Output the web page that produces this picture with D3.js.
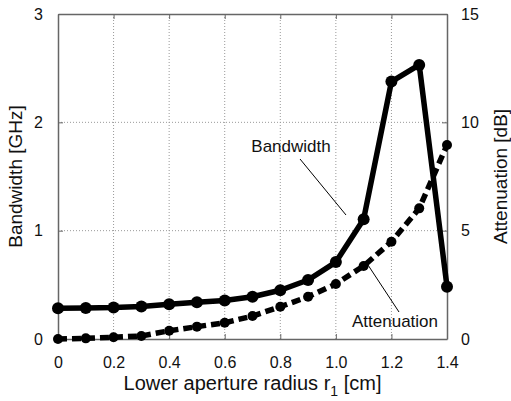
<!DOCTYPE html>
<html>
<head>
<meta charset="utf-8">
<script src="https://cdn.jsdelivr.net/npm/d3@7"></script>
<style>
body { margin:0; background:#fff; }
svg { font-family: "Liberation Sans", Arial, sans-serif; }
</style>
</head>
<body>
<script>
var radius = [0, 0.1, 0.2, 0.3, 0.4, 0.5, 0.6, 0.7, 0.8, 0.9, 1.0, 1.1, 1.2, 1.3, 1.4]
var bandwidth = [0.283, 0.286, 0.29, 0.30, 0.32, 0.34, 0.355, 0.39, 0.45, 0.545, 0.71, 1.105, 2.376, 2.53, 0.483]
var attenuation = [0, 0.03, 0.08, 0.14, 0.38, 0.57, 0.75, 1.06, 1.49, 1.95, 2.54, 3.37, 4.49, 6.03, 8.95]
var xTicks = [0, 0.2, 0.4, 0.6, 0.8, 1.0, 1.2, 1.4]
var xTickLabels = ['0', '0.2', '0.4', '0.6', '0.8', '1.0', '1.2', '1.4']
var bwTicks = [0, 1, 2, 3]
var attTicks = [0, 5, 10, 15]

var margin = {top: 14, left: 58, right: 64, bottom: 62},
    W = 511, H = 401,
    width = W - margin.left - margin.right,
    height = H - margin.top - margin.bottom

var svg = d3.select('body').append('svg')
    .attr('width', W)
    .attr('height', H)

var g = svg.append('g')
    .attr('transform', 'translate(' + margin.left + ',' + margin.top + ')')

var x = d3.scaleLinear().domain([0, 1.4]).range([0, width])
var yL = d3.scaleLinear().domain([0, 3]).range([height, 0])
var yR = d3.scaleLinear().domain([0, 15]).range([height, 0])

// grid
g.append('g').selectAll('line')
    .data(xTicks.slice(1, -1))
    .enter().append('line')
    .attr('x1', d => x(d)).attr('x2', d => x(d))
    .attr('y1', 0).attr('y2', height)
    .attr('stroke', '#999').attr('stroke-width', 1).attr('stroke-dasharray', '1,2')
g.append('g').selectAll('line')
    .data([1, 2])
    .enter().append('line')
    .attr('x1', 0).attr('x2', width)
    .attr('y1', d => yL(d)).attr('y2', d => yL(d))
    .attr('stroke', '#999').attr('stroke-width', 1).attr('stroke-dasharray', '1,2')

// axes
g.append('g').attr('transform', 'translate(0,' + height + ')')
    .call(d3.axisBottom(x).tickValues(xTicks).tickFormat((d, i) => xTickLabels[i]).tickSizeInner(-5).tickSizeOuter(0).tickPadding(18))
g.append('g')
    .call(d3.axisTop(x).tickValues(xTicks).tickFormat('').tickSizeInner(-5).tickSizeOuter(0))
g.append('g')
    .call(d3.axisLeft(yL).tickValues(bwTicks).tickFormat(d3.format('d')).tickSizeInner(-5).tickSizeOuter(0).tickPadding(15))
g.append('g').attr('transform', 'translate(' + width + ',0)')
    .call(d3.axisRight(yR).tickValues(attTicks).tickFormat(d3.format('d')).tickSizeInner(-5).tickSizeOuter(0).tickPadding(14))

svg.selectAll('.domain').attr('stroke', '#666').attr('stroke-width', 1.5)
svg.selectAll('.tick line').attr('stroke', '#666')
svg.selectAll('.tick text').attr('font-size', 16).attr('fill', '#111')

// lines
var lineBW = d3.line().x((d, i) => x(radius[i])).y(d => yL(d))
var lineAtt = d3.line().x((d, i) => x(radius[i])).y(d => yR(d))

g.append('path').datum(attenuation)
    .attr('d', lineAtt)
    .attr('fill', 'none').attr('stroke', '#000').attr('stroke-width', 5.5)
    .attr('stroke-dasharray', '9,5')
g.selectAll('.attdot').data(attenuation).enter().append('circle')
    .attr('cx', (d, i) => x(radius[i])).attr('cy', d => yR(d))
    .attr('r', 5).attr('fill', '#000')

g.append('path').datum(bandwidth)
    .attr('d', lineBW)
    .attr('fill', 'none').attr('stroke', '#000').attr('stroke-width', 5.5)
    .attr('stroke-linejoin', 'round')
g.selectAll('.bwdot').data(bandwidth).enter().append('circle')
    .attr('cx', (d, i) => x(radius[i])).attr('cy', d => yL(d))
    .attr('r', 6).attr('fill', '#000')

// annotations
svg.append('line').attr('x1', 300).attr('y1', 159).attr('x2', 346).attr('y2', 215)
    .attr('stroke', '#000').attr('stroke-width', 1)
svg.append('text').attr('x', 291).attr('y', 152).attr('text-anchor', 'middle')
    .attr('font-size', 17).attr('fill', '#111').text('Bandwidth')
svg.append('line').attr('x1', 368).attr('y1', 265).attr('x2', 399).attr('y2', 312)
    .attr('stroke', '#000').attr('stroke-width', 1)
svg.append('text').attr('x', 395).attr('y', 327).attr('text-anchor', 'middle')
    .attr('font-size', 17).attr('fill', '#111').text('Attenuation')

// axis titles
svg.append('text').attr('transform', 'translate(22,' + (margin.top + height / 2) + ') rotate(-90)')
    .attr('text-anchor', 'middle').attr('font-size', 19).attr('fill', '#111').text('Bandwidth [GHz]')
svg.append('text').attr('transform', 'translate(507,' + (margin.top + height / 2) + ') rotate(-90)')
    .attr('text-anchor', 'middle').attr('font-size', 19).attr('fill', '#111').text('Attenuation [dB]')
var xt = svg.append('text').attr('x', margin.left + width / 2).attr('y', 390)
    .attr('text-anchor', 'middle').attr('font-size', 20).attr('fill', '#111')
xt.append('tspan').text('Lower aperture radius r')
xt.append('tspan').attr('font-size', 14).attr('dy', 6).text('1')
xt.append('tspan').attr('dy', -6).text(' [cm]')
</script>
</body>
</html>
